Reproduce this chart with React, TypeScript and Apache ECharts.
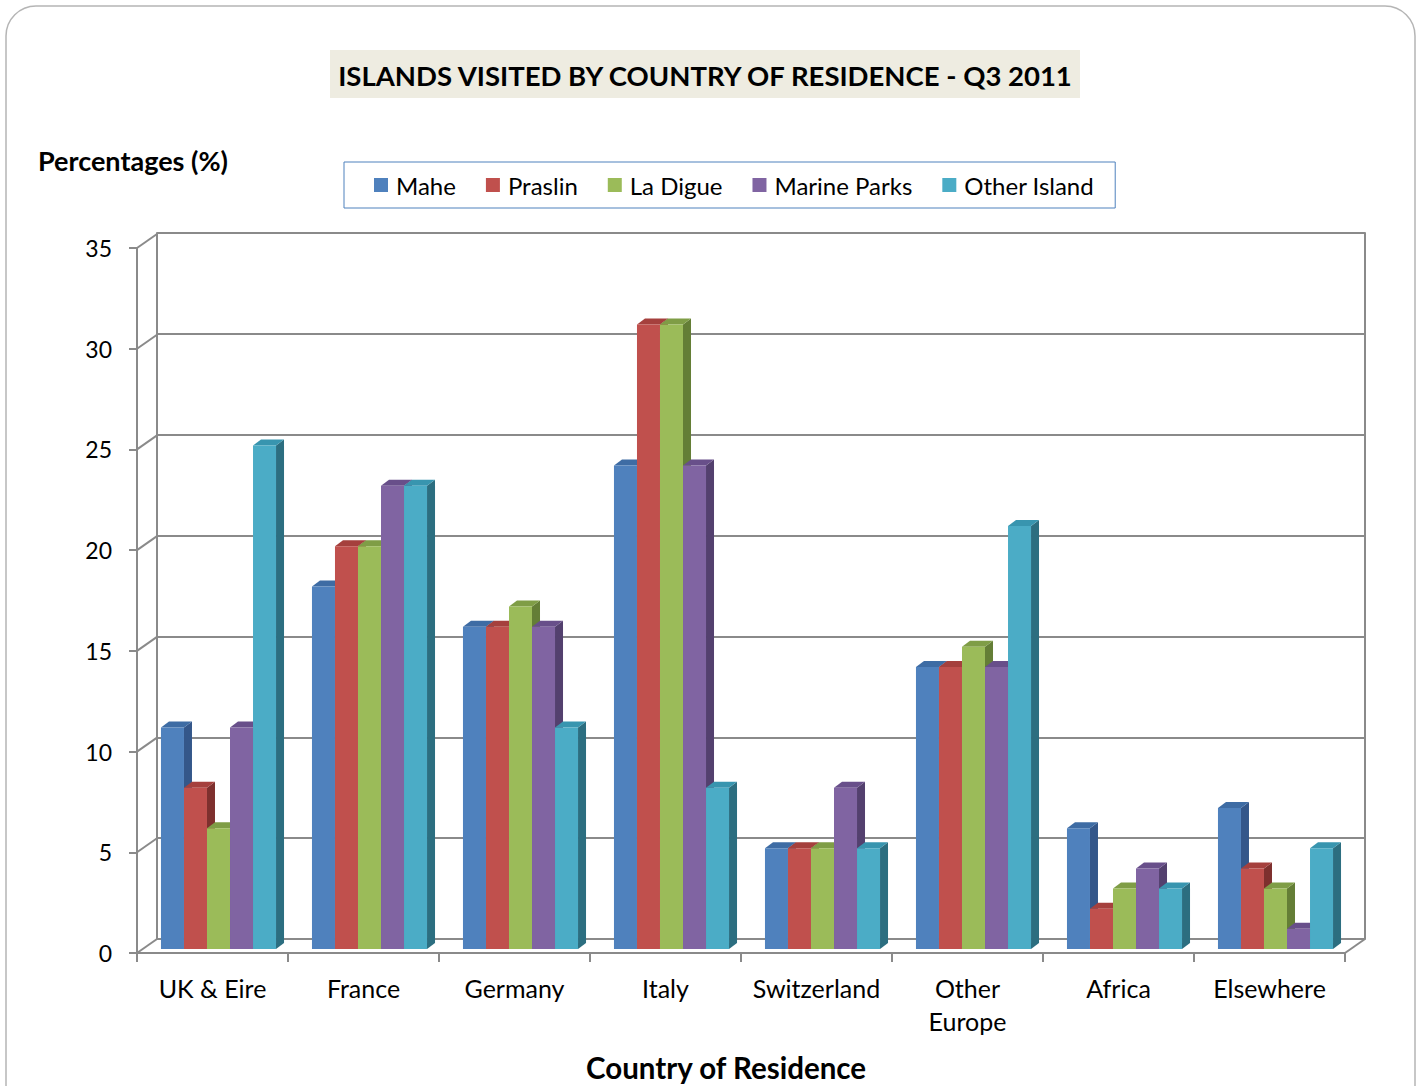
import React, { useEffect, useRef } from 'react';
import * as echarts from 'echarts';

const categories = ['UK & Eire', 'France', 'Germany', 'Italy', 'Switzerland', 'Other Europe', 'Africa', 'Elsewhere'];
const seriesNames = ['Mahe', 'Praslin', 'La Digue', 'Marine Parks', 'Other Island'];
const mahe = [11, 18, 16, 24, 5, 14, 6, 7];
const praslin = [8, 20, 16, 31, 5, 14, 2, 4];
const laDigue = [6, 20, 17, 31, 5, 15, 3, 3];
const marineParks = [11, 23, 16, 24, 8, 14, 4, 1];
const otherIsland = [25, 23, 11, 8, 5, 21, 3, 5];
const seriesValues = [mahe, praslin, laDigue, marineParks, otherIsland];
const yTicks = [0, 5, 10, 15, 20, 25, 30, 35];

const frontColors = ['#4F81BD', '#C0504D', '#9BBB59', '#8064A2', '#4BACC6'];
const topColors = ['#3E6CA4', '#A5403D', '#7F9D46', '#684F8A', '#3895AF'];
const sideColors = ['#34578A', '#7E302E', '#647E36', '#53406E', '#2C6E80'];

const FONT = 'Lato, "Open Sans", sans-serif';
const GRID_COLOR = '#8a8a8a';
const OFF_X = 6;
const OFF_Y = -4;
const DX = 8;
const DY = -6;
const WALL_DX = 20;
const WALL_DY = -14;

export default function App() {
  const ref = useRef<HTMLDivElement>(null);
  useEffect(() => {
    if (!ref.current) return;
    const chart = echarts.init(ref.current, null, { renderer: 'svg' });

    const makeBarRender = (sIdx: number) => (params: any, api: any) => {
      const cat = api.value(0);
      const val = api.value(1);
      const top = api.coord([cat, val]);
      const base = api.coord([cat, 0]);
      const band = api.size([1, 0])[0];
      const barW = (band * 0.762) / 5;
      const x0 = top[0] + OFF_X - 2.5 * barW + sIdx * barW;
      const yT = top[1] + OFF_Y;
      const yB = base[1] + OFF_Y;
      const xR = x0 + barW;
      return {
        type: 'group',
        children: [
          {
            type: 'polygon',
            shape: { points: [[xR, yB], [xR, yT], [xR + DX, yT + DY], [xR + DX, yB + DY]] },
            style: { fill: sideColors[sIdx] },
          },
          {
            type: 'polygon',
            shape: { points: [[x0, yT], [xR, yT], [xR + DX, yT + DY], [x0 + DX, yT + DY]] },
            style: { fill: topColors[sIdx] },
          },
          {
            type: 'rect',
            shape: { x: x0, y: yT, width: barW, height: yB - yT },
            style: { fill: frontColors[sIdx] },
          },
        ],
      };
    };

    const wallRender = (params: any, api: any) => {
      const v = api.value(1);
      const p = api.coord([0, v]);
      const cs = params.coordSys;
      const children: any[] = [
        {
          type: 'line',
          shape: { x1: cs.x, y1: p[1], x2: cs.x + WALL_DX, y2: p[1] + WALL_DY },
          style: { stroke: GRID_COLOR, lineWidth: 2 },
        },
      ];
      if (v === 0) {
        children.push({
          type: 'line',
          shape: { x1: cs.x + cs.width, y1: p[1], x2: cs.x + cs.width + WALL_DX, y2: p[1] + WALL_DY },
          style: { stroke: GRID_COLOR, lineWidth: 2 },
        });
      }
      return { type: 'group', children };
    };

    const barSeries = seriesNames.map((name, i) => ({
      name,
      type: 'custom',
      xAxisIndex: 1,
      yAxisIndex: 1,
      z: 3,
      itemStyle: { color: frontColors[i] },
      renderItem: makeBarRender(i),
      encode: { x: 0, y: 1 },
      data: seriesValues[i].map((v, c) => [c, v]),
    }));

    const option: any = {
      animation: false,
      color: frontColors,
      graphic: [
        {
          type: 'rect',
          z: -10,
          shape: { x: 6, y: 6, width: 1409, height: 1110, r: 30 },
          style: { fill: '#ffffff', stroke: '#b5b5b5', lineWidth: 1.5 },
        },
        {
          type: 'rect',
          shape: { x: 330, y: 50, width: 750, height: 48 },
          style: { fill: '#EEECE1' },
        },
        {
          type: 'text',
          x: 705,
          y: 75,
          style: {
            text: 'ISLANDS VISITED BY COUNTRY OF RESIDENCE - Q3 2011',
            font: `bold 27.5px ${FONT}`,
            fill: '#000',
            align: 'center',
            verticalAlign: 'middle',
          },
        },
        {
          type: 'text',
          x: 38,
          y: 160,
          style: {
            text: 'Percentages (%)',
            font: `bold 27px ${FONT}`,
            fill: '#000',
            align: 'left',
            verticalAlign: 'middle',
          },
        },
        {
          type: 'text',
          x: 726,
          y: 1067,
          style: {
            text: 'Country of Residence',
            font: `bold 29.5px ${FONT}`,
            fill: '#000',
            align: 'center',
            verticalAlign: 'middle',
          },
        },
      ],
      legend: {
        left: 344,
        top: 162,
        icon: 'rect',
        itemWidth: 14,
        itemHeight: 14,
        itemGap: 30,
        padding: [11, 21, 11, 30],
        borderColor: '#4F81BD',
        borderWidth: 1,
        textStyle: { fontFamily: FONT, fontSize: 24, color: '#000', lineHeight: 24, padding: [0, 0, 0, 3] },
        data: seriesNames,
      },
      grid: [
        { left: 157, top: 233, width: 1208, height: 706 },
        { left: 137, top: 248, width: 1208, height: 705 },
      ],
      xAxis: [
        {
          type: 'category',
          gridIndex: 0,
          data: categories,
          show: false,
        },
        {
          type: 'category',
          gridIndex: 1,
          data: categories,
          boundaryGap: true,
          axisLine: { show: true, lineStyle: { color: GRID_COLOR, width: 2 } },
          axisTick: { show: true, interval: 0, length: 9, lineStyle: { color: GRID_COLOR, width: 2 } },
          axisLabel: {
            interval: 0,
            margin: 18,
            fontFamily: FONT,
            fontSize: 25,
            color: '#000',
            lineHeight: 33,
            verticalAlign: 'top',
            formatter: (v: string) => (v === 'Other Europe' ? 'Other\nEurope' : v),
          },
          splitLine: { show: false },
        },
      ],
      yAxis: [
        {
          type: 'value',
          gridIndex: 0,
          min: 0,
          max: 35,
          interval: 5,
          axisLine: { show: true, lineStyle: { color: GRID_COLOR, width: 2 } },
          axisTick: { show: false },
          axisLabel: { show: false },
          splitLine: { show: true, lineStyle: { color: GRID_COLOR, width: 2 } },
        },
        {
          type: 'value',
          gridIndex: 1,
          min: 0,
          max: 35,
          interval: 5,
          axisLine: { show: true, lineStyle: { color: GRID_COLOR, width: 2 } },
          axisTick: { show: true, length: 8, lineStyle: { color: GRID_COLOR, width: 2 } },
          axisLabel: { margin: 25, fontFamily: FONT, fontSize: 23, color: '#000' },
          splitLine: { show: false },
        },
        {
          type: 'value',
          gridIndex: 0,
          position: 'right',
          min: 0,
          max: 35,
          interval: 5,
          axisLine: { show: true, lineStyle: { color: GRID_COLOR, width: 2 } },
          axisTick: { show: false },
          axisLabel: { show: false },
          splitLine: { show: false },
        },
      ],
      series: [
        {
          type: 'custom',
          name: 'wall',
          xAxisIndex: 1,
          yAxisIndex: 1,
          z: 1,
          silent: true,
          renderItem: wallRender,
          encode: { x: 0, y: 1 },
          data: yTicks.map((v) => [0, v]),
        },
        ...barSeries,
      ],
    };
    chart.setOption(option);
    return () => chart.dispose();
  }, []);

  return (
    <div
      ref={ref}
      style={{ position: 'absolute', left: 0, top: 0, width: 1422, height: 1086, background: '#fff' }}
    />
  );
}
